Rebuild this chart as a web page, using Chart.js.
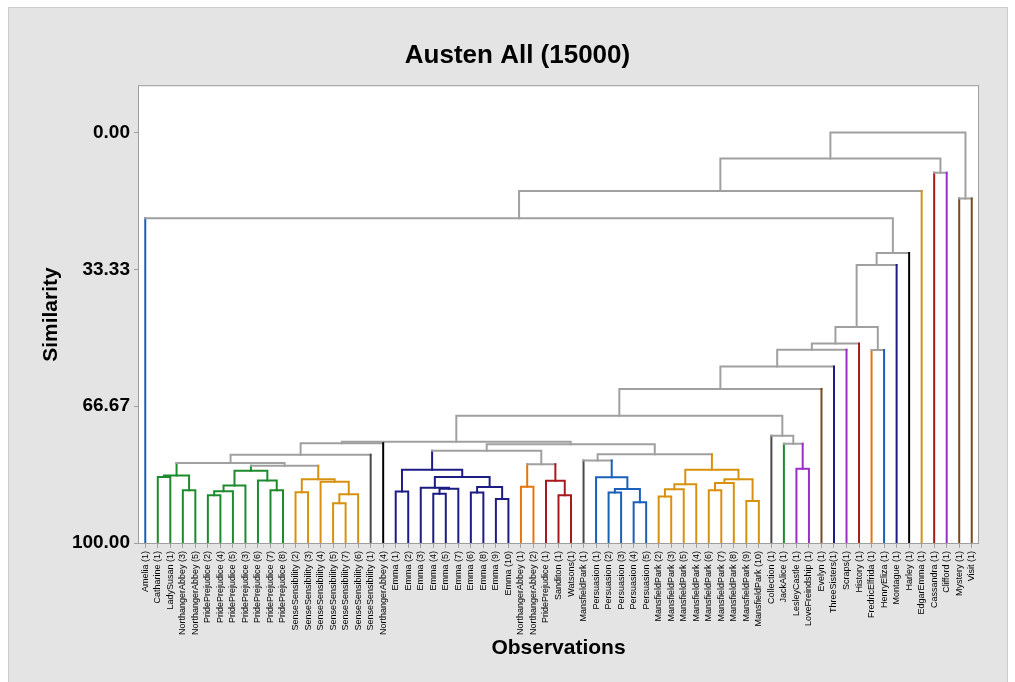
<!DOCTYPE html>
<html><head><meta charset="utf-8">
<script src="https://cdn.jsdelivr.net/npm/chart.js@4/dist/chart.umd.min.js"></script>
<style>html,body{margin:0;padding:0;background:#fff;}canvas{display:block;}</style>
</head><body>
<canvas id="c" width="1015" height="682"></canvas>
<script>
// ---------- DATA ----------
const chartTitle = 'Austen All (15000)';
const xTitle = 'Observations';
const yTitle = 'Similarity';
const yTickValues = [0, 33.33, 66.67, 100];

const leaves = [
  'Amelia (1)','Catharine (1)','LadySusan (1)','NorthangerAbbey (3)','NorthangerAbbey (5)',
  'PridePrejudice (2)','PridePrejudice (4)','PridePrejudice (5)','PridePrejudice (3)','PridePrejudice (6)',
  'PridePrejudice (7)','PridePrejudice (8)','SenseSensibility (2)','SenseSensibility (3)','SenseSensibility (4)',
  'SenseSensibility (5)','SenseSensibility (7)','SenseSensibility (6)','SenseSensibility (1)','NorthangerAbbey (4)',
  'Emma (1)','Emma (2)','Emma (3)','Emma (4)','Emma (5)','Emma (7)','Emma (6)','Emma (8)','Emma (9)','Emma (10)',
  'NorthangerAbbey (1)','NorthangerAbbey (2)','PridePrejudice (1)','Sanditon (1)','Watsons(1)',
  'MansfieldPark (1)','Persuasion (1)','Persuasion (2)','Persuasion (3)','Persuasion (4)','Persuasion (5)',
  'MansfieldPark (2)','MansfieldPark (3)','MansfieldPark (5)','MansfieldPark (4)','MansfieldPark (6)',
  'MansfieldPark (7)','MansfieldPark (8)','MansfieldPark (9)','MansfieldPark (10)',
  'Collection (1)','JackAlice (1)','LesleyCastle (1)','LoveFreindship (1)','Evelyn (1)','ThreeSisters(1)',
  'Scraps(1)','History (1)','FredricElfrida (1)','HenryEliza (1)','Montague (1)','Harley (1)',
  'EdgarEmma (1)','Cassandra (1)','Clifford (1)','Mystery (1)','Visit (1)'
];

// [id, left child, right child, similarity]; numbers = leaf index, strings = earlier merge id
const merges = [
  ['X', 1, 2, 83.94], ['Y', 3, 4, 87.15], ['W', 'X', 'Y', 83.55],
  ['AC', 5, 6, 88.37], ['AB', 'AC', 7, 87.40], ['Z', 'AB', 8, 85.98],
  ['AD', 10, 11, 87.15], ['AA', 9, 'AD', 84.77], ['U', 'Z', 'AA', 82.41],
  ['AE', 12, 13, 87.64], ['AH', 15, 16, 90.32], ['AG', 'AH', 17, 88.13],
  ['AF', 14, 'AG', 85.09], ['V', 'AE', 'AF', 84.48], ['T', 'U', 'V', 81.19],
  ['S', 'W', 'T', 80.54], ['R', 'S', 18, 78.52], ['P', 'R', 19, 75.72],
  ['E12', 20, 21, 87.45], ['E45', 23, 24, 88.0], ['AN', 'E45', 25, 86.79],
  ['AM', 22, 'AN', 86.54], ['E68', 26, 27, 87.69], ['E910', 28, 29, 89.29],
  ['AO', 'E68', 'E910', 86.37], ['AL', 'AM', 'AO', 83.94], ['AK', 'E12', 'AL', 82.17],
  ['NA12', 30, 31, 86.30], ['SW', 33, 34, 88.37], ['AQ', 32, 'SW', 84.84],
  ['AP', 'NA12', 'AQ', 80.83], ['AI', 'AK', 'AP', 77.54],
  ['AV', 37, 38, 87.69], ['AW', 39, 40, 90.07], ['AU', 'AV', 'AW', 86.86],
  ['AT', 36, 'AU', 83.99], ['AR', 35, 'AT', 79.90],
  ['AZ', 41, 42, 88.66], ['AY', 'AZ', 43, 86.91], ['AX', 'AY', 44, 85.69],
  ['BC', 45, 46, 87.15], ['BB', 'BC', 47, 85.40], ['BD', 48, 49, 89.78],
  ['BA', 'BB', 'BD', 84.48], ['AS', 'AX', 'BA', 82.17], ['AJ', 'AR', 'AS', 78.39],
  ['Q', 'AI', 'AJ', 75.96], ['O', 'P', 'Q', 75.35],
  ['N', 52, 53, 81.90], ['M', 51, 'N', 75.84], ['L', 50, 'M', 73.89],
  ['K', 'O', 'L', 69.03], ['J', 'K', 54, 62.46], ['I', 'J', 55, 56.98],
  ['H', 'I', 56, 52.90], ['G', 'H', 57, 51.40], ['FH', 58, 59, 53.00],
  ['F', 'G', 'FH', 47.37], ['E', 'F', 60, 32.29], ['D', 'E', 61, 29.37],
  ['C', 0, 'D', 20.92], ['B', 'C', 62, 14.28], ['CC', 63, 64, 9.83],
  ['A', 'B', 'CC', 6.33], ['MV', 65, 66, 16.06], ['ROOT', 'A', 'MV', 0.0]
];

// final partition: number of consecutive leaves in each cluster
const clusterSizes = [1,4,7,6,1,1,10,2,3,1,5,9,1,1,2,1,1,1,1,1,1,1,1,1,1,1,1,1];

// ---------- STYLE ----------
const FONT = "'Liberation Sans', Arial, Helvetica, sans-serif";
const BLUE = '#1a5fb8', GREEN = '#1e8a2e', GOLD = '#d8910f', DGRAY = '#4a4a4a', BLACK = '#000000',
      NAVY = '#1c1c84', ORANGE = '#e4760f', RED = '#a8191e', PURPLE = '#9b2dc8', BROWN = '#7a491c';
const clusterColors = [BLUE, GREEN, GREEN, GOLD, DGRAY, BLACK, NAVY, ORANGE, RED, DGRAY, BLUE, GOLD,
  DGRAY, GREEN, PURPLE, BROWN, NAVY, PURPLE, RED, ORANGE, BLUE, NAVY, BLACK, GOLD, RED, PURPLE, BROWN, BROWN];
const linkGray = '#a0a0a0';

// ---------- BUILD ----------
const leafCluster = [];
clusterSizes.forEach((n, c) => { for (let i = 0; i < n; i++) leafCluster.push(c); });
const nodes = {};
leaves.forEach((_, i) => { nodes[i] = { x: i, h: 100, cluster: leafCluster[i] }; });
const colorOf = n => n.cluster === null ? linkGray : clusterColors[n.cluster];

const datasets = merges.map(([id, l, r, s]) => {
  const L = nodes[l], R = nodes[r];
  const cl = (L.cluster !== null && L.cluster === R.cluster) ? L.cluster : null;
  const node = { x: (L.x + R.x) / 2, h: s, cluster: cl };
  nodes[id] = node;
  const segColors = [colorOf(L), colorOf(node), colorOf(R)];
  return {
    label: id,
    data: [{ x: L.x, y: L.h }, { x: L.x, y: s }, { x: R.x, y: s }, { x: R.x, y: R.h }],
    borderColor: segColors[1],
    borderWidth: 2,
    pointRadius: 0,
    pointHoverRadius: 0,
    fill: false,
    tension: 0,
    borderJoinStyle: 'miter',
    borderCapStyle: 'square',
    segment: { borderColor: ctx => segColors[ctx.p0DataIndex] }
  };
});

const framePlugin = {
  id: 'frame',
  beforeDraw(chart) {
    const { ctx, chartArea: a } = chart;
    ctx.save();
    ctx.fillStyle = '#ffffff';
    ctx.fillRect(0, 0, chart.width, chart.height);
    ctx.fillStyle = '#e4e4e4';
    ctx.fillRect(8, 7, 1000, 680);
    ctx.strokeStyle = '#cdcdcd';
    ctx.lineWidth = 1;
    ctx.strokeRect(8.5, 7.5, 999, 680);
    ctx.fillStyle = '#ffffff';
    ctx.fillRect(a.left, a.top, a.right - a.left, a.bottom - a.top);
    ctx.restore();
  },
  beforeDatasetsDraw(chart) {
    const { ctx, chartArea: a } = chart;
    ctx.save();
    ctx.strokeStyle = '#9e9e9e';
    ctx.lineWidth = 1;
    ctx.strokeRect(a.left - 0.5, a.top - 0.5, a.right - a.left + 1, a.bottom - a.top + 1);
    ctx.restore();
  }
};

new Chart(document.getElementById('c'), {
  type: 'line',
  data: { datasets },
  plugins: [framePlugin],
  options: {
    responsive: false,
    animation: false,
    devicePixelRatio: 1,
    events: [],
    layout: { padding: { left: 57, right: 37, top: 0, bottom: 0 } },
    plugins: {
      legend: { display: false },
      tooltip: { enabled: false },
      title: {
        display: true, text: chartTitle, color: '#000',
        font: { family: FONT, size: 26, weight: 'bold' },
        padding: { top: 40, bottom: 15 }
      }
    },
    scales: {
      x: {
        type: 'linear',
        min: -0.5, max: 66.5,
        afterBuildTicks: sc => { sc.ticks = leaves.map((_, i) => ({ value: i })); },
        afterFit: sc => { sc.height = 139; },
        ticks: {
          autoSkip: false, minRotation: 90, maxRotation: 90, padding: 3,
          color: '#000', font: { family: FONT, size: 9 },
          callback: v => leaves[v]
        },
        grid: { drawOnChartArea: false, drawTicks: true, tickLength: 5, color: '#a0a0a0' },
        border: { display: false },
        title: {
          display: true, text: xTitle, color: '#000',
          font: { family: FONT, size: 21, weight: 'bold' },
          padding: { top: 0, bottom: 21 }
        }
      },
      y: {
        type: 'linear',
        reverse: true,
        min: -11.27, max: 100,
        afterBuildTicks: sc => { sc.ticks = yTickValues.map(v => ({ value: v })); },
        afterFit: sc => { sc.width = 82; },
        ticks: {
          padding: 4, color: '#000',
          font: { family: FONT, size: 19, weight: 'bold' },
          callback: v => Number(v).toFixed(2)
        },
        grid: { drawOnChartArea: false, drawTicks: true, tickLength: 5, color: '#a0a0a0' },
        border: { display: false },
        title: {
          display: true, text: yTitle, color: '#000',
          font: { family: FONT, size: 21, weight: 'bold' },
          padding: { top: -18, bottom: 0 }
        }
      }
    }
  }
});
</script>
</body></html>
